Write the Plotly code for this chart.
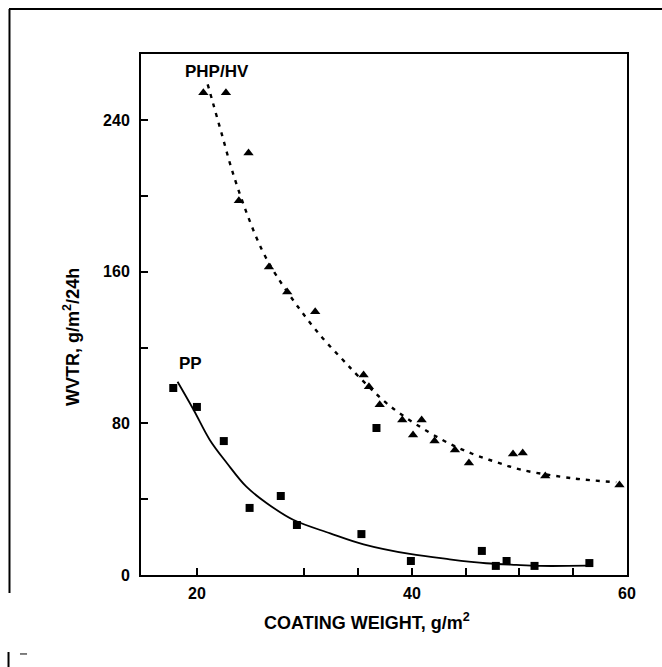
import plotly.graph_objects as go

# PP coating: measured points
pp_weight = [17.8, 20.0, 22.5, 24.9, 27.8, 29.3, 35.3, 36.7, 39.9, 46.5, 47.8, 48.8, 51.4, 56.5]
pp_wvtr = [98.7, 88.7, 70.7, 35.4, 41.7, 26.4, 21.6, 77.6, 7.4, 12.7, 4.8, 7.4, 4.8, 6.3]

# PHP/HV coating: measured points
php_weight = [20.6, 22.7, 24.8, 23.9, 26.7, 28.4, 31.0, 35.5, 36.0, 37.0, 39.1, 40.1,
              40.9, 42.1, 44.0, 45.3, 49.4, 50.3, 52.4, 59.3]
php_wvtr = [254.5, 254.5, 222.8, 197.5, 162.6, 149.4, 138.9, 105.6, 99.3, 89.8, 81.8, 73.9,
            81.8, 70.7, 66.0, 59.1, 63.9, 64.4, 52.3, 47.5]

# Trend curves through each data set
pp_fit_x = [18.2, 19.7, 21.2, 22.8, 24.6, 26.5, 29.0, 32.4, 35.5, 39.8, 43.5, 46.9, 49.7, 51.9, 56.3]
pp_fit_y = [102, 87.1, 71.3, 59.0, 46.6, 37.9, 29.0, 22.0, 16.2, 11.1, 8.3, 6.2, 5.3, 4.8, 4.9]

php_fit_x = [21.0, 21.5, 22.3, 23.3, 24.7, 26.1, 27.4, 29.6, 31.7, 33.5, 35.0, 38.0,
             42.6, 45.6, 47.9, 50.2, 55.0, 59.0]
php_fit_y = [259, 249, 233, 213, 190, 171, 158, 140, 125, 114, 105, 89,
             72, 64, 59.5, 55.5, 51, 49]

y_ticks = [0, 40, 80, 120, 160, 200, 240]
y_ticktext = ["<b>0</b>", "", "<b>80</b>", "", "<b>160</b>", "", "<b>240</b>"]
x_ticks = [20, 30, 35, 40, 45, 50, 55, 60]
x_ticktext = ["<b>20</b>", "", "", "<b>40</b>", "", "", "", "<b>60</b>"]

FONT = "Liberation Sans, Arial, sans-serif"

fig = go.Figure()

fig.add_trace(go.Scatter(
    x=php_fit_x, y=php_fit_y, mode="lines", line_shape="spline",
    line=dict(color="black", width=2.4, dash="4px,6px"), hoverinfo="skip",
))
fig.add_trace(go.Scatter(
    x=pp_fit_x, y=pp_fit_y, mode="lines", line_shape="spline",
    line=dict(color="black", width=1.8), hoverinfo="skip",
))
fig.add_trace(go.Scatter(
    x=php_weight, y=php_wvtr, mode="markers", name="PHP/HV",
    marker=dict(symbol="triangle-up", size=9, color="black"),
))
fig.add_trace(go.Scatter(
    x=pp_weight, y=pp_wvtr, mode="markers", name="PP",
    marker=dict(symbol="square", size=8, color="black"),
))

axis_common = dict(
    showgrid=False, zeroline=False, showline=True, linecolor="black", linewidth=2,
    mirror=True, ticks="inside", ticklen=7, tickwidth=2, tickcolor="black",
    tickfont=dict(family=FONT, size=16, color="black"),
)

fig.update_xaxes(range=[14.8, 60], tickmode="array", tickvals=x_ticks,
                 ticktext=x_ticktext, ticklabelstandoff=3, **axis_common)
fig.update_yaxes(range=[0, 275], tickmode="array", tickvals=y_ticks,
                 ticktext=y_ticktext, ticklabelstandoff=6, **axis_common)

annotations = [
    dict(text="<b>PHP/HV</b>", x=21.9, y=265.6, xref="x", yref="y", showarrow=False,
         font=dict(family=FONT, size=17, color="black")),
    dict(text="<b>PP</b>", x=19.4, y=111.9, xref="x", yref="y", showarrow=False,
         font=dict(family=FONT, size=17, color="black")),
    dict(text="<b>COATING WEIGHT, g/m<sup>2</sup></b>", x=0.465, y=-0.090,
         xref="paper", yref="paper", showarrow=False, xanchor="center", yanchor="middle",
         font=dict(family=FONT, size=18, color="black")),
    dict(text="<b>WVTR, g/m<sup>2</sup>/24h</b>", x=-0.142, y=0.457,
         xref="paper", yref="paper", showarrow=False, textangle=-90,
         xanchor="center", yanchor="middle",
         font=dict(family=FONT, size=18, color="black")),
]

# Outer figure frame (left and top edges) plus the corner of the frame below
frame = dict(type="line", xref="paper", yref="paper", line=dict(color="black", width=2))
shapes = [
    dict(frame, x0=-0.2706, x1=-0.2706, y0=1.0864, y1=-0.0345),
    dict(frame, x0=-0.2716, x1=1.08, y0=1.0864, y1=1.0864),
    dict(frame, x0=-0.2726, x1=-0.2726, y0=-0.1478, y1=-0.18),
    dict(frame, x0=-0.249, x1=-0.2345, y0=-0.1516, y1=-0.1516,
         line=dict(color="black", width=1)),
]

fig.update_layout(
    width=662, height=667, autosize=False,
    margin=dict(l=141, r=35, t=54, b=92),
    paper_bgcolor="white", plot_bgcolor="white",
    showlegend=False, annotations=annotations, shapes=shapes,
)

fig.write_html("out.html")
